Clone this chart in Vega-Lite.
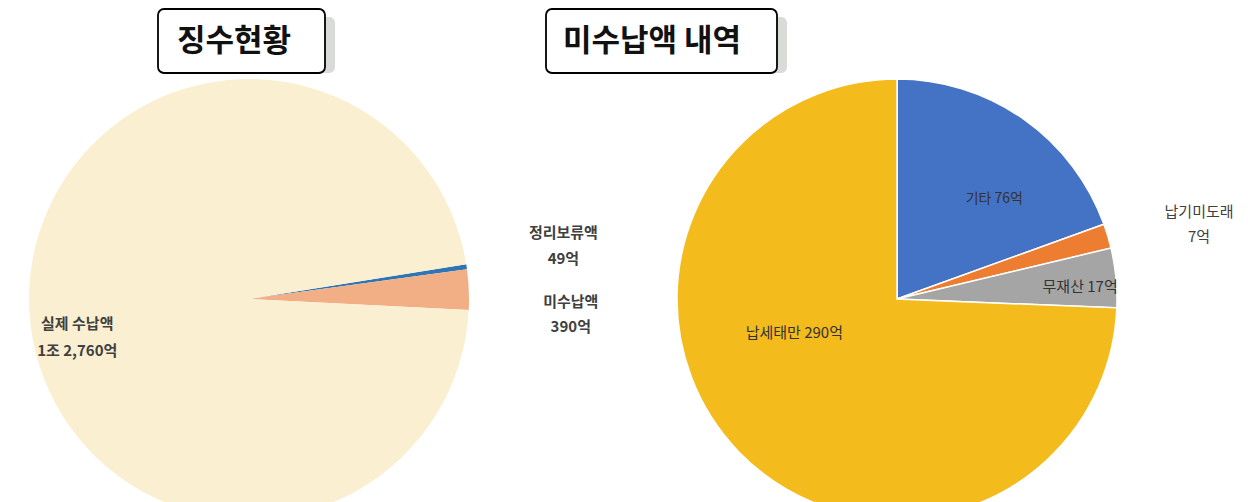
{
  "$schema": "https://vega.github.io/schema/vega-lite/v6.json",
  "padding": {"left": 0, "top": 8, "right": 0, "bottom": 0},
  "autosize": {"type": "pad"},
  "background": "white",
  "config": {"view": {"stroke": null}},
  "datasets": {
    "left": [
      {"cat": "정리보류액", "value": 49, "ord": 1, "label": "정리보류액\n49억"},
      {"cat": "미수납액", "value": 390, "ord": 2, "label": "미수납액\n390억"},
      {"cat": "실제 수납액", "value": 12760, "ord": 3, "label": "실제 수납액\n1조 2,760억"}
    ],
    "right": [
      {"cat": "기타", "value": 76, "ord": 1, "label": "기타 76억"},
      {"cat": "납기미도래", "value": 7, "ord": 2, "label": "납기미도래\n7억"},
      {"cat": "무재산", "value": 17, "ord": 3, "label": "무재산 17억"},
      {"cat": "납세태만", "value": 290, "ord": 4, "label": "납세태만 290억"}
    ],
    "titles": [{"t1": "징수현황", "t2": "미수납액 내역"}]
  },
  "columns": 2,
  "bounds": "flush",
  "align": "each",
  "center": true,
  "spacing": {"row": 22, "column": 48},
  "resolve": {"scale": {"color": "independent", "theta": "independent"}},
  "concat": [
    {
      "width": 182, "height": 64, "data": {"name": "titles"},
      "layer": [
        {"mark": {"type": "rect", "fill": "#d9dbd9", "cornerRadius": 6, "xOffset": -5, "x2Offset": -5, "yOffset": 8, "y2Offset": 8}, "encoding": {}},
        {"mark": {"type": "rect", "fill": "white", "stroke": "black", "strokeWidth": 1.8, "cornerRadius": 6, "xOffset": -15, "x2Offset": -15}, "encoding": {}},
        {"mark": {"type": "text", "font": "Noto Sans CJK KR", "fontSize": 31, "fontWeight": "bold", "fill": "#111111", "baseline": "middle", "dx": -15, "dy": 1}, "encoding": {"text": {"field": "t1"}}}
      ]
    },
    {
      "width": 250, "height": 64, "data": {"name": "titles"},
      "layer": [
        {"mark": {"type": "rect", "fill": "#d9dbd9", "cornerRadius": 6, "xOffset": -9, "x2Offset": -9, "yOffset": 8, "y2Offset": 8}, "encoding": {}},
        {"mark": {"type": "rect", "fill": "white", "stroke": "black", "strokeWidth": 1.8, "cornerRadius": 6, "xOffset": -19, "x2Offset": -19}, "encoding": {}},
        {"mark": {"type": "text", "font": "Noto Sans CJK KR", "fontSize": 31, "fontWeight": "bold", "fill": "#111111", "baseline": "middle", "dx": -19, "dy": 1}, "encoding": {"text": {"field": "t2"}}}
      ]
    },
    {
      "width": 498, "height": 408,
      "data": {"name": "left"},
      "encoding": {
        "theta": {"field": "value", "type": "quantitative", "stack": true, "scale": {"range": [1.412, 7.6952]}},
        "order": {"field": "ord", "type": "quantitative"},
        "detail": {"field": "cat", "type": "nominal"}
      },
      "layer": [
        {
          "mark": {"type": "arc", "outerRadius": 220},
          "encoding": {"color": {"field": "cat", "type": "nominal", "legend": null, "scale": {"domain": ["정리보류액", "미수납액", "실제 수납액"], "range": ["#2E75B6", "#F2AF85", "#FAF0D1"]}}}
        },
        {
          "mark": {"type": "text", "radius": 175, "dx": 3, "dy": 16, "font": "Noto Sans CJK KR", "fontSize": 15, "fontWeight": "bold", "fill": "#404040", "lineBreak": "\n", "lineHeight": 27, "align": "center", "baseline": "middle"},
          "encoding": {"text": {"condition": {"test": "datum.cat === '실제 수납액'", "field": "label"}, "value": ""}}
        },
        {
          "mark": {"type": "text", "radius": 240, "dx": 77, "dy": -31, "font": "Noto Sans CJK KR", "fontSize": 15, "fontWeight": "bold", "fill": "#404040", "lineBreak": "\n", "lineHeight": 26, "align": "center", "baseline": "middle"},
          "encoding": {"text": {"condition": {"test": "datum.cat === '정리보류액'", "field": "label"}, "value": ""}}
        },
        {
          "mark": {"type": "text", "radius": 240, "dx": 82, "dy": 13, "font": "Noto Sans CJK KR", "fontSize": 15, "fontWeight": "bold", "fill": "#404040", "lineBreak": "\n", "lineHeight": 25, "align": "center", "baseline": "middle"},
          "encoding": {"text": {"condition": {"test": "datum.cat === '미수납액'", "field": "label"}, "value": ""}}
        }
      ]
    },
    {
      "width": 702, "height": 408,
      "data": {"name": "right"},
      "encoding": {
        "theta": {"field": "value", "type": "quantitative", "stack": true},
        "order": {"field": "ord", "type": "quantitative"},
        "detail": {"field": "cat", "type": "nominal"}
      },
      "layer": [
        {
          "mark": {"type": "arc", "outerRadius": 220, "stroke": "white", "strokeWidth": 1.5},
          "encoding": {"color": {"field": "cat", "type": "nominal", "legend": null, "scale": {"domain": ["기타", "납기미도래", "무재산", "납세태만"], "range": ["#4472C4", "#ED7D31", "#A5A5A5", "#F4BB1D"]}}}
        },
        {
          "mark": {"type": "text", "radius": 138, "dx": 18, "dy": 13, "font": "Noto Sans CJK KR", "fontSize": 14, "fill": "#333333", "lineBreak": "\n", "align": "center", "baseline": "middle"},
          "encoding": {"text": {"condition": {"test": "datum.cat === '기타'", "field": "label"}, "value": ""}}
        },
        {
          "mark": {"type": "text", "radius": 310, "dx": 5, "dy": 2, "font": "Noto Sans CJK KR", "fontSize": 15, "fill": "#404040", "lineBreak": "\n", "lineHeight": 25, "align": "center", "baseline": "middle"},
          "encoding": {"text": {"condition": {"test": "datum.cat === '납기미도래'", "field": "label"}, "value": ""}}
        },
        {
          "mark": {"type": "text", "radius": 184, "dx": 0, "dy": 6, "font": "Noto Sans CJK KR", "fontSize": 15, "fill": "#333333", "lineBreak": "\n", "align": "center", "baseline": "middle"},
          "encoding": {"text": {"condition": {"test": "datum.cat === '무재산'", "field": "label"}, "value": ""}}
        },
        {
          "mark": {"type": "text", "radius": 98, "dx": -32, "dy": -34, "font": "Noto Sans CJK KR", "fontSize": 15, "fill": "#333333", "lineBreak": "\n", "align": "center", "baseline": "middle"},
          "encoding": {"text": {"condition": {"test": "datum.cat === '납세태만'", "field": "label"}, "value": ""}}
        }
      ]
    }
  ]
}
